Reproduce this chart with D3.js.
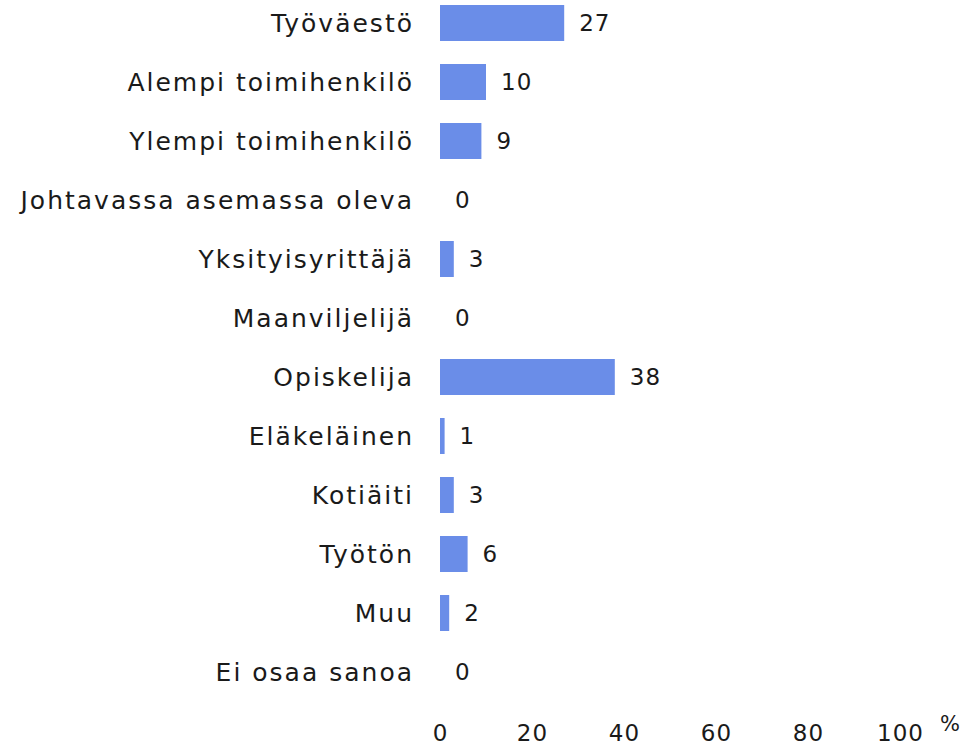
<!DOCTYPE html>
<html>
<head>
<meta charset="utf-8">
<script src="https://cdn.jsdelivr.net/npm/d3@7"></script>
<style>
  body { margin: 0; background: #fff; }
  text { font-family: "DejaVu Sans", sans-serif; fill: #1a1a1a; }
</style>
</head>
<body>
<div id="chart"></div>
<script>
var categories = ["Työväestö", "Alempi toimihenkilö", "Ylempi toimihenkilö",
    "Johtavassa asemassa oleva", "Yksityisyrittäjä", "Maanviljelijä", "Opiskelija",
    "Eläkeläinen", "Kotiäiti", "Työtön", "Muu", "Ei osaa sanoa"];
var values = [27, 10, 9, 0, 3, 0, 38, 1, 3, 6, 2, 0];
var xTicks = [0, 20, 40, 60, 80, 100];
var unitLabel = "%";

var width = 969, height = 746;
var margin = {top: -6.5, left: 440, right: 69};

var data = categories.map(function (c, i) { return {cat: c, value: values[i]}; });

var svg = d3.select("#chart").append("svg")
    .attr("width", width)
    .attr("height", height);

var x = d3.scaleLinear()
    .domain([0, 100])
    .range([0, width - margin.left - margin.right]);

var y = d3.scaleBand()
    .domain(categories)
    .range([0, 708])
    .paddingInner(0.39)
    .paddingOuter(0.195);

var g = svg.append("g")
    .attr("transform", "translate(" + margin.left + "," + margin.top + ")");

// bars
g.selectAll("rect.bar")
    .data(data)
    .enter().append("rect")
    .attr("class", "bar")
    .attr("x", x(0))
    .attr("y", function (d) { return y(d.cat); })
    .attr("width", function (d) { return x(d.value) - x(0); })
    .attr("height", y.bandwidth())
    .attr("fill", "#6a8de8");

// value labels
g.selectAll("text.val")
    .data(data)
    .enter().append("text")
    .attr("class", "val")
    .attr("x", function (d) { return x(d.value) + 15; })
    .attr("y", function (d) { return y(d.cat) + y.bandwidth() / 2; })
    .attr("dy", "0.36em")
    .style("font-size", "23px")
    .style("letter-spacing", "1px")
    .text(function (d) { return d.value; });

// category axis
var yAxis = d3.axisLeft(y).tickSize(0).tickPadding(26);
var y_g = g.append("g").call(yAxis);
y_g.select(".domain").remove();
y_g.selectAll("text")
    .attr("fill", "#1a1a1a")
    .attr("dy", "0.36em")
    .style("font-size", "25px")
    .style("letter-spacing", "2px")
    .style("font-family", "DejaVu Sans, sans-serif");

// value axis
var xAxis = d3.axisBottom(x).tickValues(xTicks).tickSize(0).tickPadding(0);
var x_g = g.append("g")
    .attr("transform", "translate(0," + 731 + ")")
    .call(xAxis);
x_g.select(".domain").remove();
x_g.selectAll("text")
    .attr("fill", "#1a1a1a")
    .style("font-size", "23px")
    .style("letter-spacing", "1px")
    .style("font-family", "DejaVu Sans, sans-serif");

g.append("text")
    .attr("x", x(100) + 50)
    .attr("y", 737)
    .attr("text-anchor", "middle")
    .style("font-size", "21px")
    .text(unitLabel);
</script>
</body>
</html>
